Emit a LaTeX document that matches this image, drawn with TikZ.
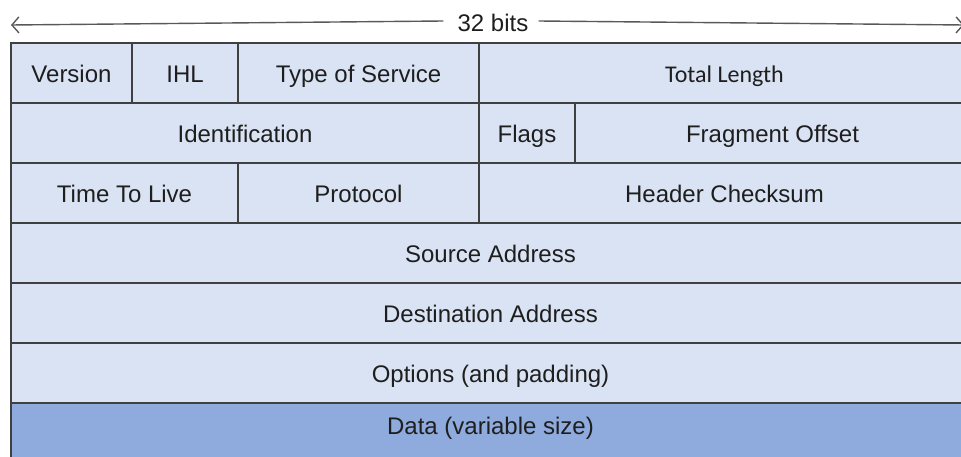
\documentclass[tikz,border=0pt]{standalone}
\usepackage{fontspec}
\setmainfont{Liberation Sans}
\newfontfamily\calibrifont{Carlito}
\usetikzlibrary{positioning,arrows.meta}

\definecolor{fieldblue}{RGB}{218,227,243}
\definecolor{datablue}{RGB}{143,170,220}
\definecolor{linegray}{RGB}{64,64,64}
\definecolor{textgray}{RGB}{30,30,30}

\begin{document}
\begin{tikzpicture}[x=1pt,y=-1pt,node distance=0pt,
   field/.style={rectangle,draw=linegray,line width=1.5pt,fill=fieldblue,
      minimum height=60pt,inner sep=0pt,outer sep=0pt,text=textgray,
      text height=19pt,text depth=0pt,
      font=\fontsize{24pt}{28pt}\selectfont},
   rowline/.style={draw=linegray,line width=2.6pt},
   bitline/.style={draw=gray!70!black,line width=1.4pt,
      -{Straight Barb[length=7pt,width=16pt,line width=1.4pt]}}]
   \useasboundingbox (0,0) rectangle (961,457);
   % row 1
   \node[field,minimum width=121pt,anchor=north west] (version) at (11,43) {Version};
   \node[field,minimum width=106pt] (ihl) [right=of version] {IHL};
   \node[field,minimum width=241pt] (tos) [right=of ihl] {Type of Service};
   \node[field,minimum width=491pt,text height=20pt,font=\calibrifont\fontsize{24pt}{28pt}\selectfont] (total) [right=of tos] {Total Length};
   % row 2
   \node[field,minimum width=468pt] (ident) [below=of version.south west,anchor=north west] {Identification};
   \node[field,minimum width=96pt] (flags) [right=of ident] {Flags};
   \node[field,minimum width=395pt] (fragment) [right=of flags] {Fragment Offset};
   % row 3
   \node[field,minimum width=227pt] (ttl) [below=of ident.south west,anchor=north west] {Time To Live};
   \node[field,minimum width=241pt] (protocol) [right=of ttl] {Protocol};
   \node[field,minimum width=491pt] (checksum) [right=of protocol] {Header Checksum};
   % full rows
   \node[field,minimum width=959pt] (source) [below=of ttl.south west,anchor=north west] {Source Address};
   \node[field,minimum width=959pt] (dest) [below=of source] {Destination Address};
   \node[field,minimum width=959pt] (options) [below=of dest] {Options (and padding)};
   \node[field,minimum width=959pt,fill=datablue,text depth=16pt] (data) [below=of options] {Data (variable size)};
   % row borders
   \draw[rowline] (version.north west) -- (total.north east);
   \draw[rowline] (version.south west) -- (total.south east);
   \draw[rowline] (ident.south west) -- (fragment.south east);
   \draw[rowline] (ttl.south west) -- (checksum.south east);
   \draw[rowline] (source.south west) -- (source.south east);
   \draw[rowline] (dest.south west) -- (dest.south east);
   \draw[rowline] (options.south west) -- (options.south east);
   % width arrow
   \node[inner sep=0pt,text=textgray,font=\fontsize{24pt}{28pt}\selectfont] (bits) at (493,23) {32 bits};
   \coordinate (bitsleft) at (11,25);
   \coordinate (bitsright) at (964,25);
   \draw[bitline] ([xshift=-14pt,yshift=2pt]bits.west) -- (bitsleft);
   \draw[bitline] ([xshift=10pt,yshift=2pt]bits.east) -- (bitsright);
\end{tikzpicture}
\end{document}
